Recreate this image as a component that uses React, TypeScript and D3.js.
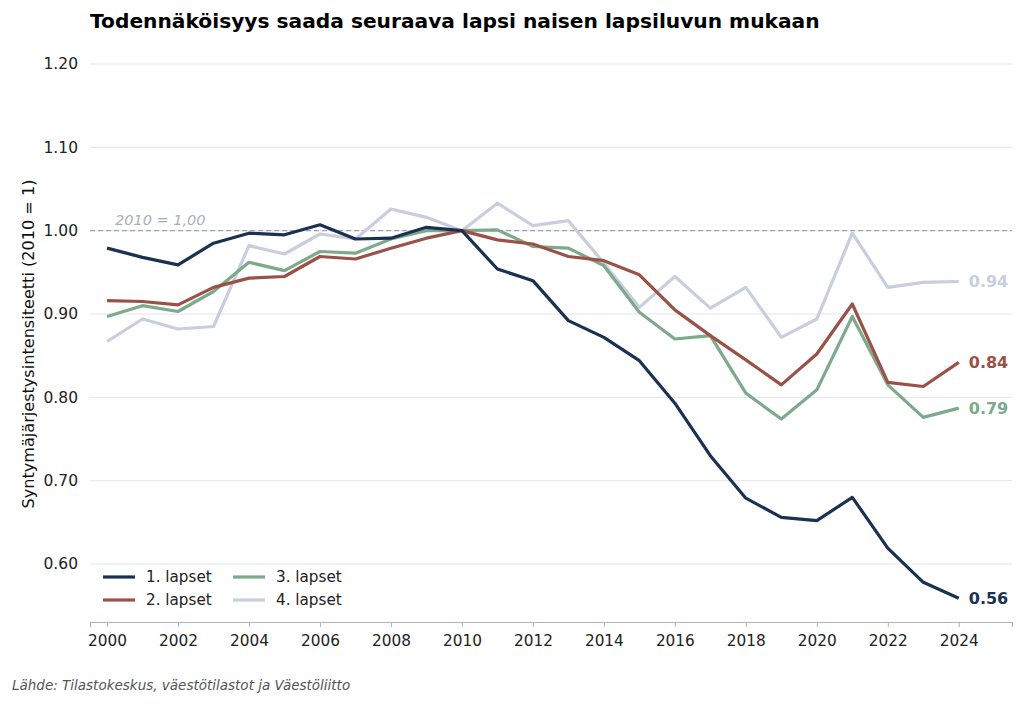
import React, { useRef, useEffect } from "react";
import * as d3 from "d3";

const years = d3.range(2000, 2025);

const first = [0.979, 0.968, 0.959, 0.985, 0.997, 0.995, 1.007, 0.99, 0.991, 1.004, 1.0, 0.954, 0.94, 0.892, 0.872, 0.844, 0.793, 0.73, 0.679, 0.656, 0.652, 0.68, 0.619, 0.578, 0.559];
const second = [0.916, 0.915, 0.911, 0.932, 0.943, 0.945, 0.969, 0.966, 0.979, 0.991, 1.0, 0.989, 0.984, 0.969, 0.964, 0.947, 0.905, 0.874, 0.845, 0.815, 0.852, 0.912, 0.818, 0.813, 0.842];
const third = [0.897, 0.91, 0.903, 0.927, 0.962, 0.952, 0.975, 0.973, 0.99, 1.0, 1.0, 1.001, 0.981, 0.979, 0.958, 0.902, 0.87, 0.874, 0.805, 0.774, 0.809, 0.897, 0.815, 0.776, 0.787];
const fourth = [0.867, 0.894, 0.882, 0.885, 0.982, 0.972, 0.996, 0.99, 1.026, 1.016, 1.0, 1.033, 1.006, 1.012, 0.961, 0.908, 0.945, 0.907, 0.932, 0.872, 0.894, 0.997, 0.932, 0.938, 0.939];

const seriesNames = ["1. lapset", "2. lapset", "3. lapset", "4. lapset"];
const seriesColors = ["#1b3152", "#9a5248", "#7daa8b", "#c8cedd"];
const yTicks = [0.6, 0.7, 0.8, 0.9, 1.0, 1.1, 1.2];
const xTicks = d3.range(2000, 2025, 2);

const W = 1024;
const H = 704;
const font = "DejaVu Sans, sans-serif";

export default function App() {
  const svgRef = useRef<SVGSVGElement>(null);

  useEffect(() => {
    if (!svgRef.current) return;
    const svg = d3.select(svgRef.current);
    svg.selectAll("*").remove();

    const x = d3.scaleLinear().domain([1999.52, 2025.5]).range([90, 1012]);
    const y = d3.scaleLinear().domain([0.6, 1.2]).range([564, 64]);
    const yBottom = 622;

    // grid
    svg
      .append("g")
      .selectAll("line")
      .data(yTicks)
      .join("line")
      .attr("x1", 90)
      .attr("x2", 1012)
      .attr("y1", (d) => y(d))
      .attr("y2", (d) => y(d))
      .attr("stroke", "#e1e4ee")
      .attr("stroke-width", 1);

    // y tick labels
    svg
      .append("g")
      .selectAll("text")
      .data(yTicks)
      .join("text")
      .attr("x", 78)
      .attr("y", (d) => y(d))
      .attr("dy", "0.35em")
      .attr("text-anchor", "end")
      .attr("font-family", font)
      .attr("font-size", 15.5)
      .attr("fill", "#222")
      .text((d) => d.toFixed(2));

    // bottom axis
    const xAxis = svg
      .append("g")
      .attr("transform", `translate(0,${yBottom})`)
      .call(d3.axisBottom(x).tickValues(xTicks).tickFormat(d3.format("d")).tickSize(5).tickPadding(8));
    xAxis.select(".domain").attr("stroke", "#aab3c8").attr("stroke-width", 1.2);
    xAxis.selectAll(".tick line").attr("stroke", "#aab3c8");
    xAxis
      .selectAll(".tick text")
      .attr("font-family", font)
      .attr("font-size", 15.3)
      .attr("fill", "#222");

    // reference line
    svg
      .append("line")
      .attr("x1", 90)
      .attr("x2", 1012)
      .attr("y1", y(1))
      .attr("y2", y(1))
      .attr("stroke", "#9ea5bb")
      .attr("stroke-width", 1.2)
      .attr("stroke-dasharray", "5,3");
    svg
      .append("text")
      .attr("x", 115)
      .attr("y", y(1) - 6)
      .attr("font-family", font)
      .attr("font-size", 14.5)
      .attr("font-style", "italic")
      .attr("fill", "#a8aec2")
      .text("2010 = 1,00");

    const all = [first, second, third, fourth];
    const line = d3
      .line<number>()
      .x((_, i) => x(years[i]))
      .y((d) => y(d));

    // draw 4th first so darker ones on top
    [3, 2, 1, 0].forEach((k) => {
      svg
        .append("path")
        .datum(all[k])
        .attr("d", line)
        .attr("fill", "none")
        .attr("stroke", seriesColors[k])
        .attr("stroke-width", 3.2)
        .attr("stroke-linejoin", "round");
    });

    // end labels
    all.forEach((vals, k) => {
      const v = vals[vals.length - 1];
      svg
        .append("text")
        .attr("x", x(2024) + 10)
        .attr("y", y(v))
        .attr("dy", "0.35em")
        .attr("font-family", font)
        .attr("font-size", 16)
        .attr("font-weight", "bold")
        .attr("fill", seriesColors[k])
        .text(v.toFixed(2));
    });

    // legend
    const leg = svg.append("g");
    seriesNames.forEach((name, k) => {
      const col = Math.floor(k / 2);
      const row = k % 2;
      const lx = 103 + col * 130;
      const ly = 577 + row * 23;
      leg
        .append("line")
        .attr("x1", lx)
        .attr("x2", lx + 32)
        .attr("y1", ly)
        .attr("y2", ly)
        .attr("stroke", seriesColors[k])
        .attr("stroke-width", 3.2);
      leg
        .append("text")
        .attr("x", lx + 43)
        .attr("y", ly)
        .attr("dy", "0.35em")
        .attr("font-family", font)
        .attr("font-size", 15.2)
        .attr("fill", "#222")
        .text(name);
    });

    // y label
    svg
      .append("text")
      .attr("transform", `translate(34,344) rotate(-90)`)
      .attr("text-anchor", "middle")
      .attr("font-family", font)
      .attr("font-size", 16.1)
      .attr("fill", "#111")
      .text("Syntymäjärjestysintensiteetti (2010 = 1)");

    // title
    svg
      .append("text")
      .attr("x", 90)
      .attr("y", 28)
      .attr("font-family", font)
      .attr("font-size", 20.2)
      .attr("font-weight", "bold")
      .attr("fill", "#000")
      .text("Todennäköisyys saada seuraava lapsi naisen lapsiluvun mukaan");

    // source
    svg
      .append("text")
      .attr("x", 12)
      .attr("y", 690)
      .attr("font-family", font)
      .attr("font-size", 13.5)
      .attr("font-style", "italic")
      .attr("fill", "#555")
      .text("Lähde: Tilastokeskus, väestötilastot ja Väestöliitto");
  }, []);

  return (
    <svg
      ref={svgRef}
      width={W}
      height={H}
      style={{ position: "absolute", left: 0, top: 0, background: "#fff" }}
    ></svg>
  );
}
